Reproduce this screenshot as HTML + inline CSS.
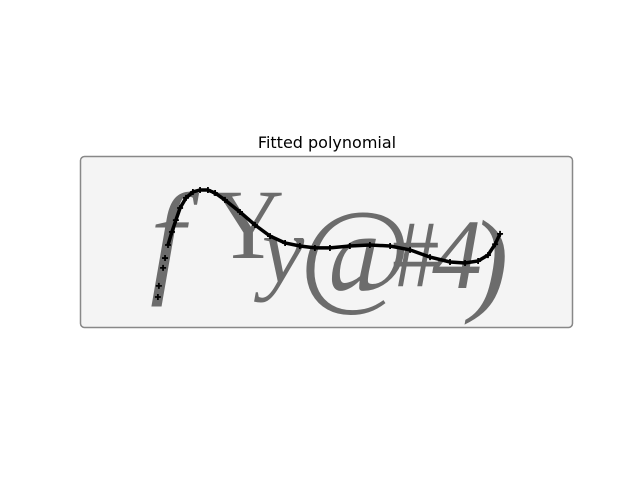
<!DOCTYPE html>
<html><head><meta charset="utf-8"><style>
html,body{margin:0;padding:0;background:#fff;width:640px;height:480px;overflow:hidden}
svg{display:block}
</style></head><body>
<svg id="chart" width="640" height="480" xmlns="http://www.w3.org/2000/svg">
<rect width="640" height="480" fill="#fff"/>
<text x="327" y="148" text-anchor="middle" font-family="DejaVu Sans, Liberation Sans, sans-serif" font-size="16" fill="#000">Fitted polynomial</text>
<g>
<rect x="80.5" y="156.5" width="492" height="171" rx="4" fill="#f4f4f4" stroke="#888" stroke-width="1.5"/>
<g font-family="Liberation Serif, DejaVu Serif, serif" font-style="italic" fill="#5e5e5e" opacity="0.9">
<text x="150" y="280" font-size="125">f</text>
<text x="212" y="258" font-size="100" font-style="normal">Y</text>
<text x="262" y="282" font-size="95">y</text>
<text x="300" y="292" font-size="120" font-style="normal">@</text>
<text x="392" y="286" font-size="95" font-style="normal">#</text>
<text x="432" y="288" font-size="100">4</text>
<text x="470" y="300" font-size="115">)</text>
</g>
</g>
<g id="series"></g>
</svg>
<script>
const xVals=[31.6,32.0,33.7,34.5,35.7,37.3,38.9,40.6,43.0,45.8,48.7,51.9,54.8,58.8,64.9,71.0,77.1,83.2,89.2,95.3,101.4,109.5,117.6,125.8,133.9,142.0,150.1,156.2,161.5,165.5,168.4,170.4];
const yVals=[57.2,52.7,45.4,41.4,36.1,30.8,26.0,21.1,17.0,14.6,13.8,13.8,15.0,17.8,22.7,28.0,32.5,35.3,36.5,37.3,37.3,36.5,36.1,36.5,38.1,41.0,43.0,43.4,42.6,40.2,35.8,31.6];
const imgW=200, imgH=70;
const X0=80, Y0=156, S=2.465;
function sx(v){return X0+v*S;}
function sy(v){return Y0+v*S;}
const g=document.getElementById('series');
const NS='http://www.w3.org/2000/svg';
let d='';
for(let i=4;i<xVals.length;i++){d+=(i===4?'M':'L')+sx(xVals[i]).toFixed(1)+','+sy(yVals[i]).toFixed(1);}
const p=document.createElementNS(NS,'path');
p.setAttribute('d',d);p.setAttribute('fill','none');p.setAttribute('stroke','#000');p.setAttribute('stroke-width','3.5');


g.appendChild(p);
for(let i=0;i<xVals.length;i++){
  const x=sx(xVals[i]),y=sy(yVals[i]);
  const m=document.createElementNS(NS,'path');
  m.setAttribute('d',`M${x-3},${y}H${x+3}M${x},${y-3}V${y+3}`);
  m.setAttribute('stroke','#000');m.setAttribute('stroke-width','1.8');
  
  
  g.appendChild(m);
}
</script>
</body></html>
